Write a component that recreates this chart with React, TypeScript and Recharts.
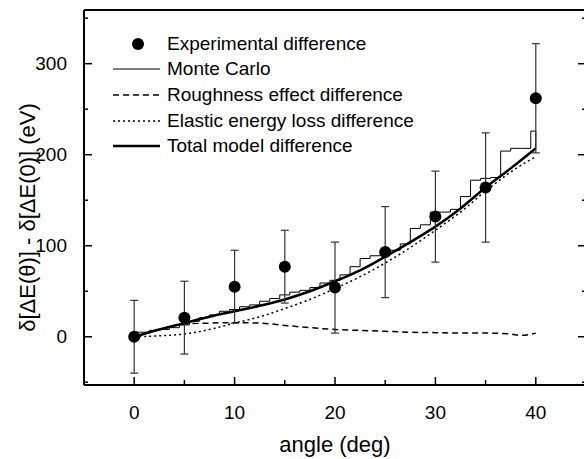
import React from 'react';
import { ComposedChart, Line, Scatter, ErrorBar, XAxis, YAxis, Legend, Label } from 'recharts';

// experimental points with error bars
const angles = [0, 5, 10, 15, 20, 25, 30, 35, 40];
const expDiff = [0, 21, 55, 77, 54, 93, 132, 164, 262];
const expErr = [40, 40, 40, 40, 50, 50, 50, 60, 60];

// Monte Carlo histogram: one bin per degree, centred on the angle
const mcValues = [
  5, 5, 7, 8, 10, 13, 17, 21, 24, 28,
  30, 33, 35, 39, 42, 46, 49, 51, 54, 59,
  62, 68, 77, 86, 89, 92, 95, 102, 119, 123,
  137, 137, 140, 154, 172, 174, 175, 204, 207, 207,
  226,
];
const mcEnd = 207;

// model curves
const modelAngles = [0, 2.5, 5, 7.5, 10, 12.5, 15, 17.5, 20, 22.5, 25, 27.5, 30, 32.5, 35, 37.5, 40];
const totalModel = [0, 8, 15, 22, 28, 34, 41, 50, 61, 73, 88, 104, 121, 141, 164, 185, 207];
const elasticLoss = [0, 1, 3, 8, 15, 22, 31, 41, 53, 66, 81, 98, 117, 137, 160, 181, 198];
const roughAngles = [0, 2.5, 5, 7.5, 10, 12.5, 15, 17.5, 20, 22.5, 25, 27.5, 30, 32.5, 35, 37.5, 38.5, 40];
const roughness = [0, 8, 14, 15, 15.5, 15, 12.5, 10, 8, 7, 6, 5, 4.5, 4, 4, 3, 1.5, 4];

const xTicks = [0, 5, 10, 15, 20, 25, 30, 35, 40];
const yTicks = [-50, 0, 50, 100, 150, 200, 250, 300, 350];

const seriesNames = [
  'Experimental difference',
  'Monte Carlo',
  'Roughness effect difference',
  'Elastic energy loss difference',
  'Total model difference',
];

const expData = angles.map((a, i) => ({ angle: a, value: expDiff[i], err: expErr[i] }));
const mcData = mcValues
  .map((v, k) => ({ angle: Math.max(0, k - 0.5), value: v }))
  .concat([{ angle: 40, value: mcEnd }]);
const totalData = modelAngles.map((a, i) => ({ angle: a, value: totalModel[i] }));
const elasticData = modelAngles.map((a, i) => ({ angle: a, value: elasticLoss[i] }));
const roughData = roughAngles.map((a, i) => ({ angle: a, value: roughness[i] }));

const FONT = '"Liberation Sans", Arial, sans-serif';

const BottomTick = ({ x, y, payload }: any) => {
  const major = payload.value % 10 === 0;
  return (
    <g>
      <line x1={x} x2={x} y1={y} y2={y - (major ? 8 : 5)} stroke="#000" strokeWidth={1.5} />
      {major && (
        <text x={x} y={y + 34} textAnchor="middle" fontSize={19} fill="#000" fontFamily={FONT}>
          {payload.value}
        </text>
      )}
    </g>
  );
};

const TopTick = ({ x, y, payload }: any) => (
  <line x1={x} x2={x} y1={y} y2={y + (payload.value % 10 === 0 ? 6 : 5)} stroke="#000" strokeWidth={1.5} />
);

const LeftTick = ({ x, y, payload }: any) => {
  const major = payload.value % 100 === 0;
  return (
    <g>
      <line x1={x} x2={x + (major ? 8 : 4)} y1={y} y2={y} stroke="#000" strokeWidth={1.5} />
      {major && (
        <text x={x - 17} y={y} textAnchor="end" dominantBaseline="central" fontSize={19} fill="#000" fontFamily={FONT}>
          {payload.value}
        </text>
      )}
    </g>
  );
};

const RightTick = ({ x, y, payload }: any) => (
  <line x1={x} x2={x - (payload.value % 100 === 0 ? 8 : 4)} y1={y} y2={y} stroke="#000" strokeWidth={1.5} />
);

const LegendSample = ({ i }: { i: number }) => {
  if (i === 0) return <circle cx={25} cy={10} r={6} fill="#000" />;
  if (i === 1) return <line x1={0} x2={47} y1={10} y2={10} stroke="#000" strokeWidth={1} />;
  if (i === 2) return <line x1={0} x2={47} y1={10} y2={10} stroke="#000" strokeWidth={1.5} strokeDasharray="6 4" />;
  if (i === 3) return <line x1={0} x2={47} y1={10} y2={10} stroke="#000" strokeWidth={1.5} strokeDasharray="2 3" />;
  return <line x1={0} x2={47} y1={10} y2={10} stroke="#000" strokeWidth={2.5} />;
};

const renderLegend = () => (
  <div style={{ fontFamily: FONT, fontSize: 19, color: '#000' }}>
    {seriesNames.map((name, i) => (
      <div key={name} style={{ display: 'flex', alignItems: 'center', height: 25.6, whiteSpace: 'nowrap' }}>
        <svg width={54} height={20} style={{ flex: 'none' }}>
          <LegendSample i={i} />
        </svg>
        <span>{name}</span>
      </div>
    ))}
  </div>
);

export default function App() {
  return (
    <div style={{ position: 'absolute', left: 0, top: 0, width: 584, height: 459, overflow: 'hidden', background: '#fff', fontFamily: FONT }}>
      <ComposedChart width={590} height={459} margin={{ top: 0, right: 0, bottom: 0, left: 0 }}>
        <XAxis
          xAxisId="x"
          dataKey="angle"
          type="number"
          domain={[-5, 45]}
          allowDataOverflow
          ticks={xTicks}
          interval={0}
          height={74}
          tickSize={0}
          tickMargin={0}
          tickLine={false}
          tick={<BottomTick />}
          axisLine={{ stroke: '#000', strokeWidth: 2 }}
        >
          <Label
            content={({ viewBox }: any) => (
              <text x={viewBox.x + viewBox.width / 2} y={viewBox.y + 67} textAnchor="middle" fontSize={22} fill="#000" fontFamily={FONT}>
                angle (deg)
              </text>
            )}
          />
        </XAxis>
        <XAxis
          xAxisId="xt"
          orientation="top"
          type="number"
          domain={[-5, 45]}
          allowDataOverflow
          ticks={xTicks}
          interval={0}
          height={10}
          tickSize={0}
          tickMargin={0}
          tickLine={false}
          tick={<TopTick />}
          axisLine={{ stroke: '#000', strokeWidth: 2 }}
        />
        <YAxis
          yAxisId="y"
          type="number"
          domain={[-53, 359]}
          allowDataOverflow
          ticks={yTicks}
          interval={0}
          width={84}
          tickSize={0}
          tickMargin={0}
          tickLine={false}
          tick={<LeftTick />}
          axisLine={{ stroke: '#000', strokeWidth: 2 }}
        >
          <Label
            content={({ viewBox }: any) => (
              <text
                transform={`translate(${viewBox.x + 27}, ${viewBox.y + viewBox.height / 2 + 20}) rotate(-90)`}
                textAnchor="middle"
                dominantBaseline="central"
                fontSize={22}
                fill="#000"
                fontFamily={FONT}
              >
                δ[ΔE(θ)] - δ[ΔE(0)] (eV)
              </text>
            )}
          />
        </YAxis>
        <YAxis
          yAxisId="yr"
          orientation="right"
          type="number"
          domain={[-53, 359]}
          allowDataOverflow
          ticks={yTicks}
          interval={0}
          width={4}
          tickSize={0}
          tickMargin={0}
          tickLine={false}
          tick={<RightTick />}
          axisLine={{ stroke: '#000', strokeWidth: 2 }}
        />
        <Legend
          layout="vertical"
          align="center"
          verticalAlign="middle"
          content={renderLegend}
          wrapperStyle={{ left: 113, top: 31, width: 320 }}
        />
        <Line
          xAxisId="x"
          yAxisId="y"
          data={mcData}
          dataKey="value"
          name={seriesNames[1]}
          type="stepAfter"
          stroke="#000"
          strokeWidth={1}
          dot={false}
          isAnimationActive={false}
        />
        <Line
          xAxisId="x"
          yAxisId="y"
          data={roughData}
          dataKey="value"
          name={seriesNames[2]}
          type="monotone"
          stroke="#000"
          strokeWidth={1.5}
          strokeDasharray="6 4"
          dot={false}
          isAnimationActive={false}
        />
        <Line
          xAxisId="x"
          yAxisId="y"
          data={elasticData}
          dataKey="value"
          name={seriesNames[3]}
          type="monotone"
          stroke="#000"
          strokeWidth={1.5}
          strokeDasharray="2 3"
          dot={false}
          isAnimationActive={false}
        />
        <Line
          xAxisId="x"
          yAxisId="y"
          data={totalData}
          dataKey="value"
          name={seriesNames[4]}
          type="monotone"
          stroke="#000"
          strokeWidth={2.5}
          dot={false}
          isAnimationActive={false}
        />
        <Scatter
          xAxisId="x"
          yAxisId="y"
          data={expData}
          dataKey="value"
          name={seriesNames[0]}
          isAnimationActive={false}
          shape={(p: any) => <circle cx={p.cx} cy={p.cy} r={6} fill="#000" />}
        >
          <ErrorBar dataKey="err" direction="y" width={4} stroke="#333" strokeWidth={1.2} isAnimationActive={false} />
        </Scatter>
      </ComposedChart>
    </div>
  );
}
